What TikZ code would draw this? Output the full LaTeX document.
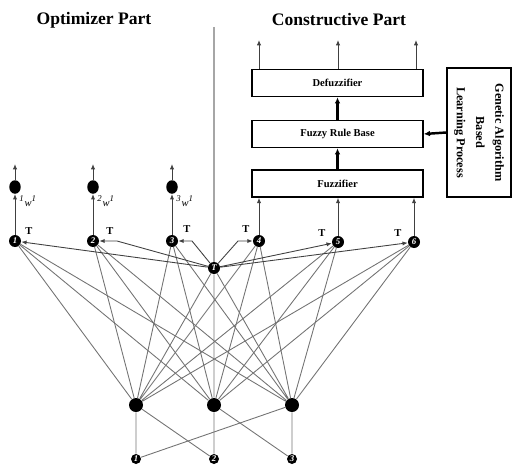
\documentclass[tikz,border=0pt]{standalone}
\usepackage{fontspec}
\setmainfont{Liberation Serif}
\usetikzlibrary{arrows.meta,shapes.geometric}

\begin{document}
\begin{tikzpicture}[x=0.02cm, y=-0.02cm,
  neuron/.style={circle, fill=black, text=white, inner sep=0pt, minimum size=0.24cm, font=\fontsize{5}{5}\selectfont\bfseries\itshape},
  hidden/.style={circle, fill=black, inner sep=0pt, minimum size=0.28cm},
  outcell/.style={ellipse, fill=black, inner sep=0pt, minimum width=0.23cm, minimum height=0.27cm},
  block/.style={draw, line width=0.9pt, minimum width=3.42cm, minimum height=0.54cm, font=\fontsize{6}{7}\selectfont\bfseries},
  link/.style={draw=black!55, line width=0.5pt},
  arr/.style={-{Latex[length=3pt,width=2.4pt]}, draw=black!75, line width=0.5pt},
  bigarr/.style={-{Latex[length=3.5pt,width=3.2pt]}, line width=1.4pt},
  tlabel/.style={font=\fontsize{6}{6}\selectfont\bfseries},
  wlabel/.style={font=\fontsize{6}{6}\selectfont\itshape, anchor=west, inner sep=0pt},
  title/.style={font=\fontsize{10}{12}\selectfont\bfseries}
]
\useasboundingbox (0,0) rectangle (513,466);

% Titles
\node[title] (optTitle) at (94,20) {Optimizer Part};
\node[title] (conTitle) at (339,20) {Constructive Part};

% Input layer
\node[neuron, minimum size=0.2cm] (in1) at (136,459) {1};
\node[neuron, minimum size=0.2cm] (in2) at (214,459) {2};
\node[neuron, minimum size=0.2cm] (in3) at (292,459) {3};

% Hidden layer
\node[hidden] (hid1) at (136,405) {};
\node[hidden] (hid2) at (214,405) {};
\node[hidden] (hid3) at (292,405) {};

% Middle layer
\node[neuron] (n1) at (15,241) {1};
\node[neuron] (n2) at (93,241) {2};
\node[neuron] (n3) at (172,241) {3};
\node[neuron] (n4) at (259,241) {4};
\node[neuron] (n5) at (338,242) {5};
\node[neuron] (n6) at (414,242) {6};
\node[neuron] (T) at (214,268) {T};

% Input to hidden
\draw[link] (in1) -- (hid1) (in1) -- (hid3);
\draw[link] (in2) -- (hid2) (in2) -- (hid1);
\draw[link] (in3) -- (hid3) (in3) -- (hid2);

% Hidden to middle
\draw[link] (hid1) -- (n1) (hid1) -- (n2) (hid1) -- (n3) (hid1) -- (n4) (hid1) -- (n5) (hid1) -- (n6) (hid1) -- (T);
\draw[link] (hid2) -- (n1) (hid2) -- (n2) (hid2) -- (n3) (hid2) -- (n4) (hid2) -- (n5) (hid2) -- (n6) (hid2) -- (T);
\draw[link] (hid3) -- (n1) (hid3) -- (n2) (hid3) -- (n3) (hid3) -- (n4) (hid3) -- (n5) (hid3) -- (n6) (hid3) -- (T);

% Divider
\coordinate (divTop) at (214,27);
\draw[draw=black!35, line width=0.6pt] (divTop) -- (T);

% T arrows
\coordinate (bend2) at (117,241);
\coordinate (bend3) at (192,241);
\coordinate (bend4) at (238,241);
\draw[arr] (T) -- (n1);
\draw[arr] (T) -- (bend2) -- (n2);
\draw[arr] (T) -- (bend3) -- (n3);
\draw[arr] (T) -- (bend4) -- (n4);
\draw[arr] (T) -- (n5);
\draw[arr] (T) -- (n6);
\node[tlabel] (t1) at (29,231) {T};
\node[tlabel] (t2) at (110,231) {T};
\node[tlabel] (t3) at (187,229) {T};
\node[tlabel] (t4) at (246,229) {T};
\node[tlabel] (t5) at (322,233) {T};
\node[tlabel] (t6) at (398,233) {T};

% Optimizer outputs
\node[outcell] (o1) at (15,187) {};
\node[outcell] (o2) at (93,187) {};
\node[outcell] (o3) at (172,187) {};
\draw[arr] (n1) -- (o1);
\draw[arr] (n2) -- (o2);
\draw[arr] (n3) -- (o3);
\node[wlabel] (w1) at (19,201) {\textsuperscript{1}w\textsuperscript{1}};
\node[wlabel] (w2) at (97,201) {\textsuperscript{2}w\textsuperscript{1}};
\node[wlabel] (w3) at (176,201) {\textsuperscript{3}w\textsuperscript{1}};
\coordinate (y1) at (15,164);
\coordinate (y2) at (93,164);
\coordinate (y3) at (172,164);
\draw[arr] (o1) -- (y1);
\draw[arr] (o2) -- (y2);
\draw[arr] (o3) -- (y3);

% Constructive part
\node[block] (defuzz) at (337.5,83) {Defuzzifier};
\node[block] (rules) at (337.5,134) {Fuzzy Rule Base};
\node[block] (fuzz) at (337.5,183.5) {Fuzzifier};
\node[draw, line width=0.9pt, rotate=-90, minimum width=2.58cm, minimum height=1.28cm, align=center,
      font=\fontsize{7}{11}\selectfont\bfseries] (ga) at (479,132.5) {Genetic Algorithm\\Based\\Learning Process};
\draw[arr] (n4) -- (n4 |- fuzz.south);
\draw[arr] (n5) -- (n5 |- fuzz.south);
\draw[arr] (n6) -- (n6 |- fuzz.south);
\draw[bigarr] (fuzz) -- (rules);
\draw[bigarr] (rules) -- (defuzz);
\draw[bigarr] (ga.south) -- (rules.east);
\coordinate (z1) at (259,40);
\coordinate (z2) at (338,40);
\coordinate (z3) at (416,40);
\draw[arr] (defuzz.north -| z1) -- (z1);
\draw[arr] (defuzz.north -| z2) -- (z2);
\draw[arr] (defuzz.north -| z3) -- (z3);
\end{tikzpicture}
\end{document}
